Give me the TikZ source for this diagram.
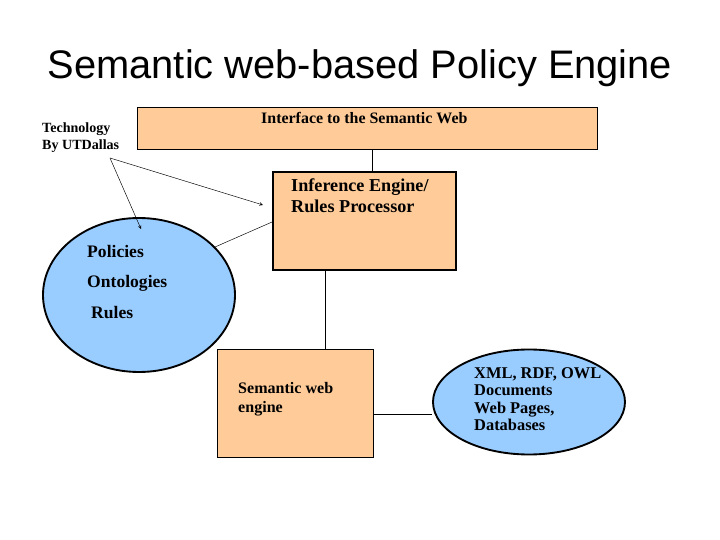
\documentclass[tikz,border=0pt]{standalone}
\usepackage{fontspec}
\setmainfont{Liberation Serif}
\newfontfamily\titlefont{Liberation Sans}
\usetikzlibrary{shapes.geometric}
\definecolor{peach}{HTML}{FFCC99}
\definecolor{skyblue}{HTML}{99CCFF}
\begin{document}
\begin{tikzpicture}[x=0.03cm, y=-0.03cm, >=stealth]
    \tikzset{
        box/.style = {rectangle, draw, fill=peach, inner sep=0pt},
        cloud/.style = {ellipse, draw, line width=1.6pt, fill=skyblue, inner sep=0pt},
        txt/.style = {font=\bfseries\fontsize{13.6pt}{15.5pt}\selectfont, align=left, anchor=north west, inner sep=0pt},
    }
    \useasboundingbox (0,0) rectangle (720,540);

    \node [font=\titlefont\fontsize{34pt}{38pt}\selectfont] (title) at (360,68) {Semantic web-based Policy Engine};

    % boxes
    \node [box, minimum width=460*0.03cm, minimum height=42*0.03cm] (iface) at (367,128) {};
    \node [txt] at (261,112) {Interface to the Semantic Web};
    \node [box, line width=1.6pt, minimum width=183*0.03cm, minimum height=98*0.03cm] (infer) at (364.5,221) {};
    \node [txt, font=\bfseries\fontsize{15.5pt}{18pt}\selectfont] at (291,178) {Inference Engine/\\Rules Processor};
    \node [box, minimum width=156*0.03cm, minimum height=108*0.03cm] (sweb) at (295,403) {};
    \node [txt, font=\bfseries\fontsize{13.7pt}{16pt}\selectfont] at (238,382) {Semantic web\\engine};

    % ellipses
    \node [cloud, minimum width=192*0.03cm, minimum height=154*0.03cm] (store) at (139,295) {};
    \node [txt, font=\bfseries\fontsize{15pt}{17pt}\selectfont] at (87,245) {Policies};
    \node [txt, font=\bfseries\fontsize{15pt}{17pt}\selectfont] at (87,275) {Ontologies};
    \node [txt, font=\bfseries\fontsize{15pt}{17pt}\selectfont] at (91,306) {Rules};
    \node [cloud, minimum width=192*0.03cm, minimum height=105*0.03cm] (docs) at (529,402) {};
    \node [txt, font=\bfseries\fontsize{14pt}{15pt}\selectfont] at (474,367) {XML, RDF, OWL\\Documents\\Web Pages,\\Databases};

    \node [txt, font=\bfseries\fontsize{12pt}{14pt}\selectfont] (tech) at (42,123) {Technology\\By UTDallas};
    \coordinate (techend) at (110,158);

    % connectors
    \draw (iface.south -| 372,0) -- (infer.north -| 372,0);
    \draw (215,247) -- (infer.west |- 0,222);
    \draw (infer.south -| 325,0) -- (sweb.north -| 325,0);
    \draw (sweb.east |- 0,414) -- (docs.west |- 0,414);
    \draw [->] (techend) -- (141,229);
    \draw [->] (techend) -- (263,205);
\end{tikzpicture}
\end{document}
